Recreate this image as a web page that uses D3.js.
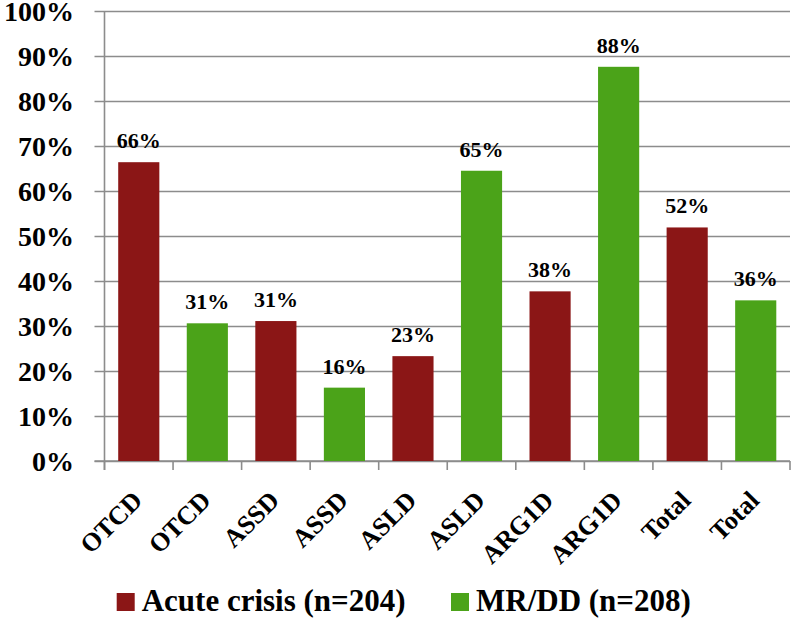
<!DOCTYPE html>
<html>
<head>
<meta charset="utf-8">
<script src="https://cdn.jsdelivr.net/npm/d3@7"></script>
<style>
  html, body { margin: 0; padding: 0; background: #ffffff; }
  svg { display: block; }
  text { font-family: "Liberation Serif", "Times New Roman", serif; font-weight: bold; fill: #000; }
</style>
</head>
<body>
<svg id="chart" width="793" height="619"></svg>
<script>
// ---- data ----
const categories = ["OTCD", "OTCD", "ASSD", "ASSD", "ASLD", "ASLD", "ARG1D", "ARG1D", "Total", "Total"];
const groups = ["acute", "mrdd", "acute", "mrdd", "acute", "mrdd", "acute", "mrdd", "acute", "mrdd"];
const values = [66.4, 30.6, 31.1, 16.3, 23.3, 64.5, 37.7, 87.6, 51.9, 35.7];
const yTicks = [0, 10, 20, 30, 40, 50, 60, 70, 80, 90, 100];
const legendKeys = ["acute", "mrdd"];
const legendLabels = ["Acute crisis (n=204)", "MR/DD (n=208)"];
const colors = { acute: "#8b1616", mrdd: "#4ba319" };

// ---- layout ----
const svg = d3.select("#chart");
const pL = 104.5, pR = 790, pT = 11, pB = 461;

const x = d3.scaleBand().domain(d3.range(categories.length)).range([pL, pR]).paddingInner(0).paddingOuter(0);
const y = d3.scaleLinear().domain([0, 100]).range([pB, pT]);

// gridlines + y axis
const yAxis = d3.axisLeft(y).tickValues(yTicks).tickSize(0).tickFormat(d => d + "%").tickPadding(0);
const gy = svg.append("g").attr("transform", `translate(${pL},0)`).call(yAxis);
gy.select(".domain").remove();
gy.selectAll(".tick line").attr("x1", -10).attr("x2", pR - pL).attr("stroke", "#8c8c8c").attr("stroke-width", 1.6);
gy.selectAll(".tick text").attr("x", -30.5).attr("dy", "0.34em")
  .style("font-size", "28px").style("font-family", "'Liberation Serif', serif").style("font-weight", "bold").attr("fill", "#000");

// y axis line
svg.append("line").attr("x1", pL).attr("x2", pL).attr("y1", pT).attr("y2", pB + 9)
  .attr("stroke", "#8c8c8c").attr("stroke-width", 1.6);

// x axis ticks at band boundaries
const boundaries = d3.range(categories.length + 1).map(i => pL + i * x.bandwidth());
svg.append("g").selectAll("line").data(boundaries).join("line")
  .attr("x1", d => d).attr("x2", d => d).attr("y1", pB).attr("y2", pB + 9)
  .attr("stroke", "#8c8c8c").attr("stroke-width", 1.6);
svg.append("line").attr("x1", pL - 10).attr("x2", pR).attr("y1", pB).attr("y2", pB)
  .attr("stroke", "#8c8c8c").attr("stroke-width", 1.6);

// bars
const bw = x.bandwidth() * 0.6;
svg.append("g").selectAll("rect").data(values).join("rect")
  .attr("x", (d, i) => x(i) + (x.bandwidth() - bw) / 2)
  .attr("width", bw)
  .attr("y", d => y(d))
  .attr("height", d => pB - y(d))
  .attr("fill", (d, i) => colors[groups[i]]);

// value labels
svg.append("g").selectAll("text").data(values).join("text")
  .attr("x", (d, i) => x(i) + x.bandwidth() / 2)
  .attr("y", d => y(d) - 14)
  .attr("text-anchor", "middle")
  .style("font-size", "22px")
  .text(d => Math.round(d) + "%");

// x labels
svg.append("g").selectAll("text").data(categories).join("text")
  .attr("transform", (d, i) => `translate(${x(i) + x.bandwidth() / 2 + 5},${pB + 41}) rotate(-45)`)
  .attr("text-anchor", "end")
  .style("font-size", "26px")
  .text(d => d);

// legend
const legendX = [116.7, 451];
const lg = svg.append("g");
legendKeys.forEach((k, i) => {
  lg.append("rect").attr("x", legendX[i]).attr("y", 593).attr("width", 18).attr("height", 18).attr("fill", colors[k]);
  lg.append("text").attr("x", legendX[i] + 25).attr("y", 611).style("font-size", "31px").text(legendLabels[i]);
});
</script>
</body>
</html>
